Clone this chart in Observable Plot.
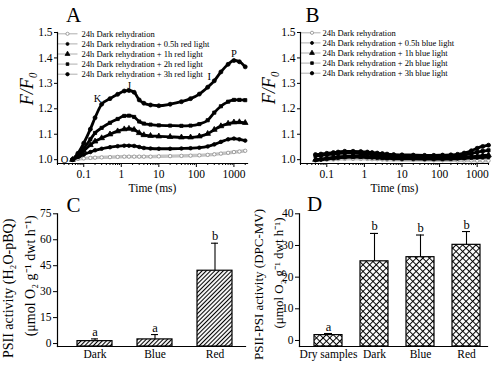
<!DOCTYPE html>
<html><head><meta charset="utf-8">
<script src="https://cdn.jsdelivr.net/npm/d3@7"></script>
<script src="https://cdn.jsdelivr.net/npm/@observablehq/plot@0.6"></script>
<style>
html,body{margin:0;padding:0;background:#fff;}
#wrap{position:relative;width:501px;height:375px;overflow:hidden;}
#wrap > div{position:absolute;}
</style></head><body>
<div id="wrap">
  <div id="pA" style="left:0;top:0"></div>
  <div id="pB" style="left:250px;top:0"></div>
  <div id="pC" style="left:0;top:195px"></div>
  <div id="pD" style="left:250px;top:195px"></div>
</div>
<script>
// ---------- data ----------
const times = [0.05, 0.07, 0.1, 0.15, 0.2, 0.3, 0.5, 0.8, 1.2, 1.6, 2.2, 3, 4, 6, 10, 20, 40, 70, 120, 200, 300, 450, 700, 1000, 1400, 2000];

const redDark = [1.0, 1.003, 1.005, 1.007, 1.008, 1.009, 1.01, 1.011, 1.012, 1.012, 1.012, 1.012, 1.012, 1.012, 1.013, 1.014, 1.015, 1.016, 1.017, 1.019, 1.021, 1.024, 1.027, 1.03, 1.032, 1.035];
const red05h = [1.0, 1.01, 1.02, 1.03, 1.037, 1.043, 1.049, 1.053, 1.055, 1.055, 1.054, 1.05, 1.046, 1.044, 1.043, 1.043, 1.044, 1.045, 1.047, 1.052, 1.06, 1.07, 1.08, 1.083, 1.08, 1.075];
const red1h = [1.0, 1.015, 1.035, 1.058, 1.072, 1.085, 1.1, 1.112, 1.12, 1.122, 1.118, 1.105, 1.097, 1.094, 1.092, 1.09, 1.088, 1.088, 1.092, 1.102, 1.118, 1.132, 1.142, 1.147, 1.148, 1.145];
const red2h = [1.0, 1.02, 1.045, 1.08, 1.105, 1.125, 1.145, 1.16, 1.172, 1.173, 1.168, 1.15, 1.142, 1.138, 1.135, 1.134, 1.133, 1.134, 1.14, 1.155, 1.185, 1.21, 1.228, 1.235, 1.235, 1.234];
const red3h = [1.0, 1.025, 1.065, 1.12, 1.165, 1.218, 1.24, 1.257, 1.27, 1.272, 1.265, 1.235, 1.222, 1.215, 1.212, 1.218, 1.228, 1.24, 1.258, 1.285, 1.31, 1.345, 1.375, 1.39, 1.385, 1.365];

const blueDark = [0.998, 0.999, 1.0, 1.001, 1.002, 1.003, 1.003, 1.003, 1.003, 1.002, 1.002, 1.001, 1.0, 1.0, 0.999, 0.999, 0.999, 0.998, 0.998, 0.998, 0.997, 0.997, 0.997, 0.996, 0.996, 0.996];
const blue05h = [0.998, 1.0, 1.003, 1.005, 1.007, 1.009, 1.01, 1.01, 1.009, 1.008, 1.007, 1.006, 1.005, 1.004, 1.003, 1.003, 1.002, 1.002, 1.002, 1.003, 1.004, 1.005, 1.007, 1.008, 1.009, 1.01];
const blue1h = [1.0, 1.003, 1.006, 1.009, 1.011, 1.013, 1.013, 1.013, 1.012, 1.012, 1.011, 1.01, 1.009, 1.008, 1.008, 1.007, 1.007, 1.006, 1.006, 1.007, 1.008, 1.01, 1.012, 1.014, 1.016, 1.018];
const blue2h = [1.015, 1.017, 1.02, 1.022, 1.024, 1.026, 1.025, 1.024, 1.022, 1.02, 1.018, 1.016, 1.014, 1.012, 1.011, 1.01, 1.01, 1.01, 1.011, 1.012, 1.014, 1.018, 1.024, 1.03, 1.034, 1.037];
const blue3h = [1.02, 1.022, 1.025, 1.028, 1.03, 1.033, 1.033, 1.032, 1.03, 1.028, 1.026, 1.024, 1.022, 1.02, 1.019, 1.018, 1.017, 1.017, 1.018, 1.019, 1.021, 1.026, 1.035, 1.045, 1.052, 1.057];

const redLegend = ["24h Dark rehydration", "24h Dark rehydration + 0.5h red light", "24h Dark rehydration + 1h red light", "24h Dark rehydration + 2h red light", "24h Dark rehydration + 3h red light"];
const blueLegend = ["24h Dark rehydration", "24h Dark rehydration + 0.5h blue light", "24h Dark rehydration + 1h blue light", "24h Dark rehydration + 2h blue light", "24h Dark rehydration + 3h blue light"];

const ojipLabels = ["O", "K", "J", "I", "P"];
const ojipTimes = [0.05, 0.3, 1.6, 300, 1000];
const ojipValues = [1.0, 1.218, 1.272, 1.31, 1.39];

const ratioTicks = [1.0, 1.1, 1.2, 1.3, 1.4, 1.5];
const timeMajorTicks = [0.1, 1, 10, 100, 1000];
const timeMinorTicks = [0.02, 0.03, 0.04, 0.05, 0.06, 0.07, 0.08, 0.09, 0.2, 0.3, 0.4, 0.5, 0.6, 0.7, 0.8, 0.9, 2, 3, 4, 5, 6, 7, 8, 9, 20, 30, 40, 50, 60, 70, 80, 90, 200, 300, 400, 500, 600, 700, 800, 900, 2000];

const psiiCategories = ["Dark", "Blue", "Red"];
const psiiMeans = [1.4, 2.4, 42.1];
const psiiErrors = [1.3, 2.8, 15.9];
const psiiLetters = ["a", "a", "b"];
const psiiTicks = [0, 15, 30, 45, 60, 75];

const psCategories = ["Dry samples", "Dark", "Blue", "Red"];
const psMeans = [1.7, 25.0, 26.3, 30.2];
const psErrors = [0.5, 8.8, 7.0, 4.2];
const psLetters = ["a", "b", "b", "b"];
const psTicks = [0, 10, 20, 30, 40];

// ---------- helpers ----------
const FONT = '"Liberation Serif", "Times New Roman", serif';
const baseStyle = {fontFamily: FONT, fontSize: "11.5px", color: "black", background: "white", overflow: "visible"};
const hline = {draw(ctx) { ctx.moveTo(-10, 0); ctx.lineTo(10, 0); }};

function seriesDefs(vals) {
  return [
    {values: vals[0], symbol: "circle", r: 1.7, lr: 1.6, fill: "white", stroke: "#8c8c8c", line: "#c4c4c4", lw: 3.4},
    {values: vals[1], symbol: "circle", r: 1.8, lr: 1.5, fill: "black", stroke: "black", line: "black", lw: 2.8},
    {values: vals[2], symbol: "triangle", r: 2.1, lr: 1.8, fill: "black", stroke: "black", line: "black", lw: 2.8},
    {values: vals[3], symbol: "square", r: 1.8, lr: 1.5, fill: "black", stroke: "black", line: "black", lw: 2.8},
    {values: vals[4], symbol: "circle", r: 2.0, lr: 1.7, fill: "black", stroke: "black", line: "black", lw: 2.8}
  ];
}

function curvePanel(cfg) {
  const marks = [];
  cfg.series.forEach((s) => {
    const rows = times.map((t, i) => ({t, v: s.values[i]}));
    marks.push(Plot.line(rows, {x: "t", y: "v", stroke: s.line, strokeWidth: s.lw, curve: "monotone-x"}));
    marks.push(Plot.dot(rows, {x: "t", y: "v", symbol: s.symbol, r: s.r, fill: s.fill, stroke: s.stroke, strokeWidth: 0.8}));
  });
  cfg.series.forEach((s, k) => {
    const dy = cfg.legendDy + k * 10.1;
    marks.push(Plot.dot([0], {frameAnchor: "top-left", dx: cfg.legendLineDx, dy, symbol: hline, r: 3, fill: "none", stroke: "#9a9a9a", strokeWidth: 0.8}));
    marks.push(Plot.dot([0], {frameAnchor: "top-left", dx: cfg.legendMarkDx, dy, symbol: s.symbol, r: s.lr, fill: s.fill, stroke: s.stroke, strokeWidth: 0.8}));
    marks.push(Plot.text([cfg.names[k]], {frameAnchor: "top-left", dx: cfg.legendTextDx, dy, text: (d) => d, textAnchor: "start", lineAnchor: "middle", fontSize: 8.5}));
  });
  if (cfg.annotate) {
    const offs = [[-8, 0], [-4, -6], [0, -5], [-5, -4], [0, -7]];
    ojipLabels.forEach((l, i) => {
      marks.push(Plot.text([l], {x: () => ojipTimes[i], y: () => ojipValues[i], text: (d) => d, dx: offs[i][0], dy: offs[i][1], fontSize: 10.5}));
    });
  }
  marks.push(
    Plot.frame({anchor: "left", stroke: "black", strokeWidth: 1.2}),
    Plot.frame({anchor: "bottom", stroke: "black", strokeWidth: 1.2}),
    Plot.axisY({ticks: ratioTicks, tickFormat: (d) => d.toFixed(1), tickSize: 3, tickPadding: 2, label: null}),
    Plot.axisX({ticks: timeMajorTicks, tickFormat: (d) => String(d), tickSize: 4, tickPadding: 2, label: null}),
    Plot.axisX({ticks: timeMinorTicks, tickFormat: () => "", tickSize: 2, label: null}),
    Plot.text(["Time (ms)"], {frameAnchor: "bottom", dy: 25, lineAnchor: "middle", fontSize: 11.5}),
    Plot.text([cfg.letter], {frameAnchor: "top-left", dx: cfg.letterDx, dy: -17, lineAnchor: "middle", textAnchor: "middle", fontSize: 21}),
    Plot.text(["F/F\u2080"], {frameAnchor: "left", rotate: -90, dx: cfg.yLabDx, dy: cfg.yLabDy, lineAnchor: "middle", textAnchor: "middle", fontSize: 18, fontStyle: "italic"})
  );
  return Plot.plot({
    width: cfg.width, height: 195,
    marginLeft: cfg.ml, marginRight: cfg.mr, marginTop: 32, marginBottom: 32,
    x: {type: "log", domain: cfg.xDomain},
    y: {domain: [0.985, 1.5]},
    style: baseStyle,
    marks
  });
}

function barPanel(cfg) {
  const rows = cfg.cats.map((c, i) => ({c, m: cfg.means[i], e: cfg.errs[i], l: cfg.letters[i]}));
  const y0 = cfg.yDomain[0];
  const svg = Plot.plot({
    width: cfg.width, height: 180,
    marginLeft: cfg.ml, marginRight: cfg.mr, marginTop: 18.3, marginBottom: 29,
    x: {type: "band", domain: cfg.cats, paddingInner: cfg.pi, paddingOuter: cfg.po, align: cfg.align},
    y: {domain: cfg.yDomain},
    style: baseStyle,
    marks: [
      Plot.barY(rows, {x: "c", y1: y0, y2: "m", fill: `url(#${cfg.pattern})`, stroke: "black", strokeWidth: 1.2}),
      Plot.ruleX(rows, {x: "c", y1: "m", y2: (d) => d.m + d.e, stroke: "black", strokeWidth: 1.1}),
      Plot.tickY(rows, {x: "c", y: (d) => d.m + d.e, insetLeft: cfg.capInset, insetRight: cfg.capInset, stroke: "black", strokeWidth: 1.1}),
      Plot.text(rows, {x: "c", y: (d) => d.m + d.e, text: "l", dy: -7, fontSize: 12.5}),
      Plot.frame({anchor: "left", stroke: "black", strokeWidth: 1.2}),
      Plot.frame({anchor: "bottom", stroke: "black", strokeWidth: 1.2}),
      Plot.axisY({ticks: cfg.yTicks, tickSize: 4, tickPadding: 2, label: null}),
      Plot.axisX({tickSize: 0, tickPadding: 3, label: null}),
      Plot.text([cfg.letter], {frameAnchor: "top-left", dx: cfg.letterDx, dy: cfg.letterDy, lineAnchor: "middle", textAnchor: "middle", fontSize: 21}),
      Plot.text([cfg.ylab1], {frameAnchor: "left", rotate: -90, dx: cfg.yl1[0], dy: cfg.yl1[1], lineAnchor: "middle", textAnchor: "middle", fontSize: cfg.ylFont}),
      Plot.text([cfg.ylab2], {frameAnchor: "left", rotate: -90, dx: cfg.yl2[0], dy: cfg.yl2[1], lineAnchor: "middle", textAnchor: "middle", fontSize: cfg.ylFont})
    ]
  });
  const defs = d3.select(svg).insert("defs", ":first-child");
  const p = defs.append("pattern").attr("id", cfg.pattern).attr("patternUnits", "userSpaceOnUse")
    .attr("width", cfg.patSize).attr("height", cfg.patSize).attr("patternTransform", "rotate(45)");
  p.append("rect").attr("width", cfg.patSize).attr("height", cfg.patSize).attr("fill", "white");
  p.append("line").attr("x1", cfg.patSize / 2).attr("y1", 0).attr("x2", cfg.patSize / 2).attr("y2", cfg.patSize)
    .attr("stroke", "black").attr("stroke-width", cfg.patStroke);
  if (cfg.cross) {
    p.append("line").attr("x1", 0).attr("y1", cfg.patSize / 2).attr("x2", cfg.patSize).attr("y2", cfg.patSize / 2)
      .attr("stroke", "black").attr("stroke-width", cfg.patStroke);
  }
  return svg;
}

// ---------- panels ----------
document.getElementById("pA").append(curvePanel({
  width: 250, ml: 57, mr: 3, xDomain: [0.02, 2300], letter: "A", letterDx: 16,
  yLabDx: -30, yLabDy: -9.5,
  series: seriesDefs([redDark, red05h, red1h, red2h, red3h]), names: redLegend,
  legendDy: 1.3, legendLineDx: 10, legendMarkDx: 10, legendTextDx: 24, annotate: true
}));

document.getElementById("pB").append(curvePanel({
  width: 251, ml: 50, mr: 13, xDomain: [0.02, 2000], letter: "B", letterDx: 12,
  yLabDx: -31, yLabDy: -10.5,
  series: seriesDefs([blueDark, blue05h, blue1h, blue2h, blue3h]), names: blueLegend,
  legendDy: 0.3, legendLineDx: 10, legendMarkDx: 11.5, legendTextDx: 22, annotate: false
}));

document.getElementById("pC").append(barPanel({
  width: 250, ml: 57, mr: 5, cats: psiiCategories, means: psiiMeans, errs: psiiErrors, letters: psiiLetters,
  yDomain: [-1.7, 75], yTicks: psiiTicks, pi: 0.41, po: 0.246, align: 0.6, capInset: 14,
  pattern: "hatchC", patSize: 3, patStroke: 1.1, cross: false,
  letter: "C", letterDx: 16, letterDy: -8.3,
  ylab1: "PSII activity (H\u2082O-pBQ)", ylab2: "(\u03bcmol O\u2082 g\u207b\u00b9 dwt h\u207b\u00b9)",
  yl1: [-48.5, 8.2], yl2: [-27, -4.3], ylFont: 14
}));

document.getElementById("pD").append(barPanel({
  width: 251, ml: 49, mr: 14, cats: psCategories, means: psMeans, errs: psErrors, letters: psLetters,
  yDomain: [-1.9, 40], yTicks: psTicks, pi: 0.40, po: 0.239, align: 0.65, capInset: 10,
  pattern: "crossD", patSize: 4.7, patStroke: 1, cross: true,
  letter: "D", letterDx: 15, letterDy: -9.3,
  ylab1: "PSII-PSI activity (DPC-MV)", ylab2: "(\u03bcmol O\u2082 g\u207b\u00b9 dwt h\u207b\u00b9)",
  yl1: [-40.5, 4.3], yl2: [-20.5, -7.2], ylFont: 13
}));
</script>
</body></html>
